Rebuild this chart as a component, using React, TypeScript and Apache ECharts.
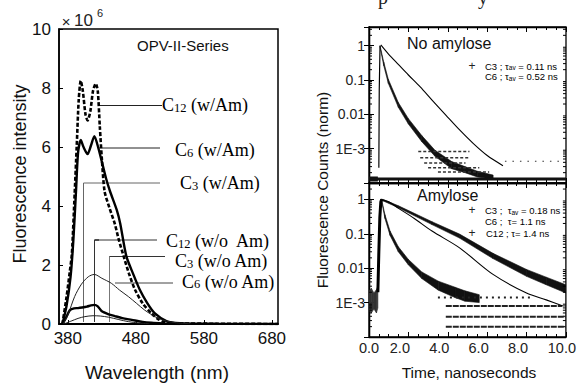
import React, { useEffect, useRef } from "react";
import * as echarts from "echarts";

// ---------------- Left panel: emission spectra ----------------
const WAVELENGTH_TICKS = [380, 480, 580, 680];
const INTENSITY_TICKS = [0, 2, 4, 6, 8, 10];

const C12_AM_WL = [372, 378, 383, 386, 390, 393, 396, 399, 402, 406, 409, 413, 417, 421, 424, 427, 430, 434, 441, 449, 455, 462, 470, 479, 490, 503, 512, 522, 540, 600, 689];
const C12_AM_I = [0, 0.9, 1.8, 2.4, 4.4, 6.0, 7.6, 8.25, 7.9, 7.1, 6.9, 7.2, 7.9, 8.15, 7.9, 6.7, 5.6, 4.5, 3.95, 3.4, 2.85, 2.3, 1.7, 1.15, 0.7, 0.36, 0.18, 0.06, 0.02, 0.01, 0];

const C6_AM_WL = [372, 378, 384, 388, 392, 395, 399, 403, 409, 414, 419, 425, 430, 436, 442, 452, 457, 466, 476, 486, 497, 508, 525, 545, 600, 689];
const C6_AM_I = [0, 0.6, 1.6, 2.8, 4.5, 5.8, 6.24, 6.0, 5.76, 6.05, 6.37, 5.95, 5.5, 4.95, 4.5, 3.86, 3.41, 2.3, 1.7, 1.15, 0.7, 0.36, 0.1, 0.03, 0.01, 0];

const C3_AM_WL = [372, 377, 383, 389, 395, 401, 408, 414, 419, 424, 430, 440, 449, 460, 474, 490, 503, 520, 545];
const C3_AM_I = [0, 0.2, 0.47, 0.53, 0.54, 0.56, 0.59, 0.63, 0.65, 0.6, 0.43, 0.33, 0.27, 0.2, 0.14, 0.07, 0.04, 0.02, 0];

const WO_AM_A_WL = [373, 380, 390, 400, 410, 419, 430, 444, 456, 469, 481, 493, 503, 513, 525, 540, 560];
const WO_AM_A_I = [0, 0.3, 0.93, 1.35, 1.6, 1.68, 1.55, 1.38, 1.15, 0.93, 0.7, 0.47, 0.32, 0.19, 0.1, 0.04, 0.01];

const WO_AM_B_WL = [374, 385, 395, 405, 417, 428, 440, 455, 469, 485, 500];
const WO_AM_B_I = [0, 0.1, 0.19, 0.25, 0.28, 0.27, 0.23, 0.15, 0.08, 0.03, 0.01];

// ---------------- Right panels: decays ----------------
const TIME_TICKS = [0, 2, 4, 6, 8, 10];
const DECADE_LABELS = ["1", "0.1", "0.01", "1E-3"];
const MINOR_LOG = [
  0.0002, 0.0003, 0.0004, 0.0005, 0.0006, 0.0007, 0.0008, 0.0009,
  0.002, 0.003, 0.004, 0.005, 0.006, 0.007, 0.008, 0.009,
  0.02, 0.03, 0.04, 0.05, 0.06, 0.07, 0.08, 0.09,
  0.2, 0.3, 0.4, 0.5, 0.6, 0.7, 0.8, 0.9,
  2, 3,
];

// No amylose
const TOP_C3_T = [0.56, 0.75, 0.98, 1.49, 2.0, 2.68, 3.35, 4.2, 4.87, 5.5, 6.3];
const TOP_C3_HI = [1.0, 0.33, 0.105, 0.022, 0.0075, 0.0024, 0.0009, 0.00042, 0.0003, 0.00022, 0.00017];
const TOP_C3_LO = [0.9, 0.26, 0.08, 0.016, 0.0052, 0.0016, 0.0006, 0.00026, 0.0002, 0.00015, 0.00013];
const TOP_RISE_T = [0.5, 0.52, 0.56];
const TOP_RISE_V = [0.00028, 0.05, 1.0];
const TOP_C6_T = [0.6, 1.0, 1.5, 2.0, 2.6, 3.2, 3.9, 4.6, 5.3, 6.0, 6.8];
const TOP_C6_V = [1.05, 0.56, 0.28, 0.14, 0.063, 0.026, 0.0095, 0.0035, 0.0014, 0.00063, 0.00032];
const TOP_FLOOR_V = 0.00013;
const TOP_ROW_V = [0.00083, 0.00054, 0.00038, 0.00028, 0.00021, 0.00043];
const TOP_ROW_T0 = [2.5, 2.6, 2.8, 3.0, 3.5, 6.9];
const TOP_ROW_T1 = [5.1, 5.1, 4.9, 5.6, 6.1, 9.8];

// Amylose
const BOT_C12_T = [0.6, 0.75, 1.5, 3.2, 4.6, 6.3, 8.0, 9.0, 10.0];
const BOT_C12_HI = [1.03, 0.98, 0.65, 0.225, 0.098, 0.027, 0.0092, 0.0055, 0.0033];
const BOT_C12_LO = [0.93, 0.89, 0.57, 0.185, 0.075, 0.019, 0.0058, 0.0033, 0.0019];
const BOT_C3_T = [0.64, 0.81, 1.07, 1.49, 2.0, 2.68, 3.52, 4.37, 4.87, 5.6];
const BOT_C3_HI = [1.0, 0.36, 0.12, 0.042, 0.018, 0.0078, 0.0042, 0.0028, 0.0022, 0.0017];
const BOT_C3_LO = [0.9, 0.28, 0.09, 0.03, 0.0125, 0.005, 0.0023, 0.0014, 0.0011, 0.001];
const BOT_C6_T = [0.62, 1.0, 1.5, 2.3, 3.2, 4.6, 6.3, 8.0, 9.0, 9.85];
const BOT_C6_V = [1.0, 0.85, 0.55, 0.28, 0.12, 0.039, 0.0066, 0.0019, 0.0012, 0.0008];
const BOT_PRE_T = [0.0, 0.12, 0.25, 0.38, 0.45];
const BOT_PRE_HI = [0.0022, 0.0026, 0.0019, 0.0024, 0.003];
const BOT_PRE_LO = [0.0006, 0.0005, 0.00065, 0.0005, 0.0007];
const BOT_RISE_T = [0.45, 0.5, 0.55, 0.6, 0.64];
const BOT_RISE_V = [0.002, 0.03, 0.3, 0.85, 1.0];
const BOT_ROW_V = [0.0014, 0.00079, 0.00039, 0.0002];
const BOT_ROW_T0 = [3.5, 3.9, 3.9, 3.9];
const BOT_ROW_T1 = [8.2, 9.8, 10, 10];

const SANS = "Liberation Sans, Arial, sans-serif";
const SERIF = "Liberation Serif, Times New Roman, serif";

const pairs = (xs: number[], ys: number[]) => xs.map((x, i) => [x, ys[i]]);

function lineSeries(xi: number, yi: number, xs: number[], ys: number[], width: number, color = "#000", type: any = "solid", smooth: number | boolean = false) {
  return {
    type: "line",
    xAxisIndex: xi,
    yAxisIndex: yi,
    data: pairs(xs, ys),
    showSymbol: false,
    smooth,
    silent: true,
    lineStyle: { color, width, type },
  };
}

function bandSeries(xi: number, yi: number, ts: number[], lo: number[], hi: number[], color = "#111") {
  const data = ts.map((t, i) => [t, lo[i], hi[i]]);
  return {
    type: "custom",
    xAxisIndex: xi,
    yAxisIndex: yi,
    silent: true,
    clip: true,
    data,
    encode: { x: 0, y: [1, 2] },
    renderItem: (params: any, api: any) => {
      const i = params.dataIndex;
      if (i >= data.length - 1) return null;
      const a = data[i];
      const b = data[i + 1];
      const pts = [api.coord([a[0], a[2]]), api.coord([b[0], b[2]]), api.coord([b[0], b[1]]), api.coord([a[0], a[1]])];
      return { type: "polygon", shape: { points: pts }, style: { fill: color, stroke: color, lineWidth: 0.6 } };
    },
  };
}

function minorLogTicks(xi: number, yi: number) {
  return {
    type: "custom",
    xAxisIndex: xi,
    yAxisIndex: yi,
    silent: true,
    clip: true,
    data: MINOR_LOG.map((v) => [0, v]),
    renderItem: (params: any, api: any) => {
      const v = api.value(1);
      const pl = api.coord([0, v]);
      const pr = api.coord([10, v]);
      return {
        type: "group",
        children: [
          { type: "line", shape: { x1: pl[0], y1: pl[1], x2: pl[0] + 3, y2: pl[1] }, style: { stroke: "#000", lineWidth: 1 } },
          { type: "line", shape: { x1: pr[0] - 3, y1: pr[1], x2: pr[0], y2: pr[1] }, style: { stroke: "#000", lineWidth: 1 } },
        ],
      };
    },
  };
}

const logLabel = (v: number) => {
  const e = Math.log10(v);
  const r = Math.round(e);
  if (Math.abs(e - r) > 0.02) return "";
  const idx = -r;
  return idx >= 0 && idx < DECADE_LABELS.length ? DECADE_LABELS[idx] : "";
};

function logYAxis(gridIndex: number, max: number, position: "left" | "right") {
  return {
    type: "log",
    gridIndex,
    position,
    logBase: 10,
    min: 0.0001,
    max,
    axisLine: { show: true, lineStyle: { color: "#000", width: 1.3 } },
    axisTick: { show: true, inside: true, length: 5, lineStyle: { color: "#000" } },
    splitLine: { show: false },
    axisLabel: position === "left"
      ? { show: true, formatter: logLabel, fontFamily: SANS, fontSize: 14, color: "#222", margin: 4 }
      : { show: false },
  };
}

function timeXAxis(gridIndex: number, position: "top" | "bottom", labels: boolean) {
  return {
    type: "value",
    gridIndex,
    position,
    min: 0,
    max: 10,
    interval: 2,
    axisLine: { show: true, lineStyle: { color: "#000", width: 1.3 } },
    axisTick: { show: true, inside: true, length: 5, lineStyle: { color: "#000" } },
    minorTick: { show: true, splitNumber: 4, length: 3, lineStyle: { color: "#000" } },
    splitLine: { show: false },
    axisLabel: labels
      ? {
          show: true,
          margin: 3,
          formatter: (v: number) => {
            const s = TIME_TICKS.includes(v) ? v.toFixed(1) : "";
            if (v === 0) return `{z|${s}}`;
            if (v === 10) return `{c|${s}}`;
            return `{b|${s}}`;
          },
          rich: {
            z: { fontFamily: SANS, fontSize: 14.5, color: "#222" },
            b: { fontFamily: SANS, fontSize: 14.5, color: "#222", padding: [0, 17, 0, 0] },
            c: { fontFamily: SANS, fontSize: 14.5, color: "#222", padding: [0, 8, 0, 0] },
          },
        }
      : { show: false },
  };
}

const annRich = {
  c: { fontFamily: SERIF, fontSize: 18, color: "#111", verticalAlign: "bottom", lineHeight: 14 },
  n: { fontFamily: SERIF, fontSize: 12.5, color: "#111", verticalAlign: "bottom", lineHeight: 14 },
};
const annLabel = (x: number, y: number, num: string, rest: string) => ({
  type: "text",
  x,
  y,
  style: { text: `{c|C}{n|${num}}{c| ${rest}}`, rich: annRich, align: "left", verticalAlign: "middle", font: `18px ${SERIF}` },
});

const legRich = {
  n: { fontFamily: SANS, fontSize: 9.5, color: "#333", verticalAlign: "bottom" },
  s: { fontFamily: SANS, fontSize: 6.5, color: "#333", verticalAlign: "bottom" },
};
const legText = (x: number, y: number, text: string) => ({
  type: "text", x, y, style: { text, rich: legRich, align: "left", verticalAlign: "middle", font: `9.5px ${SANS}` },
});
const plus = (x: number, y: number) => ({
  type: "text", x, y, style: { text: "+", font: `12px ${SANS}`, fill: "#222", align: "center", verticalAlign: "middle" },
});
const seg = (x1: number, y1: number, x2: number, y2: number, stroke = "#222", w = 1) => ({
  type: "line", shape: { x1, y1, x2, y2 }, style: { stroke, lineWidth: w },
});
const poly = (points: number[][], stroke = "#222", w = 1) => ({
  type: "polyline", shape: { points }, style: { stroke, lineWidth: w, fill: "none" },
});

function buildOption() {
  const series: any[] = [
    // left spectra
    lineSeries(0, 0, C12_AM_WL, C12_AM_I, 2.6, "#000", [4, 2], 0.25),
    lineSeries(0, 0, C6_AM_WL, C6_AM_I, 2.4, "#000", "solid", 0.25),
    lineSeries(0, 0, C3_AM_WL, C3_AM_I, 2.4, "#000", "solid", 0.25),
    lineSeries(0, 0, WO_AM_A_WL, WO_AM_A_I, 1, "#222", "solid", 0.3),
    lineSeries(0, 0, WO_AM_B_WL, WO_AM_B_I, 1, "#222", "solid", 0.3),
    // top right (No amylose)
    lineSeries(1, 1, [0, 10], [TOP_FLOOR_V, TOP_FLOOR_V], 3, "#111"),
    lineSeries(1, 1, [0, 0.45], [TOP_FLOOR_V, TOP_FLOOR_V], 5, "#111"),
    ...TOP_ROW_V.map((v, i) =>
      lineSeries(1, 1, [TOP_ROW_T0[i], TOP_ROW_T1[i]], [v, v], i === 5 ? 1.2 : 1.5, "#333", i === 5 ? [1.5, 6] : [3, 2])
    ),
    bandSeries(1, 1, TOP_C3_T, TOP_C3_LO, TOP_C3_HI),
    lineSeries(1, 1, TOP_RISE_T, TOP_RISE_V, 1.2, "#000"),
    lineSeries(1, 1, TOP_C6_T, TOP_C6_V, 1.1, "#000", "solid", 0.3),
    minorLogTicks(1, 1),
    // bottom right (Amylose)
    ...BOT_ROW_V.map((v, i) =>
      lineSeries(3, 3, [BOT_ROW_T0[i], BOT_ROW_T1[i]], [v, v], 2, "#222", i === 0 ? [2, 4] : [6, 1])
    ),
    bandSeries(3, 3, BOT_PRE_T, BOT_PRE_LO, BOT_PRE_HI, "#333"),
    lineSeries(3, 3, BOT_RISE_T, BOT_RISE_V, 3, "#000"),
    bandSeries(3, 3, BOT_C3_T, BOT_C3_LO, BOT_C3_HI),
    bandSeries(3, 3, BOT_C12_T, BOT_C12_LO, BOT_C12_HI),
    lineSeries(3, 3, BOT_C6_T, BOT_C6_V, 1.1, "#000", "solid", 0.3),
    minorLogTicks(3, 3),
  ];

  const graphic: any[] = [
    // cut-off caption above right panel (only its descenders are visible)
    { type: "text", x: 378, y: 7, style: { text: "p", font: `20px ${SERIF}`, fill: "#222", verticalAlign: "bottom" } },
    { type: "text", x: 478, y: 7, style: { text: "y", font: `20px ${SERIF}`, fill: "#222", verticalAlign: "bottom" } },
    // left panel texts
    { type: "text", x: 66, y: 21, style: { text: "×", font: `15px ${SANS}`, fill: "#222", align: "center", verticalAlign: "middle" } },
    { type: "text", x: 74, y: 20, style: { text: "10", font: `17px ${SANS}`, fill: "#222", align: "left", verticalAlign: "middle" } },
    { type: "text", x: 97, y: 13, style: { text: "6", font: `11px ${SANS}`, fill: "#222", align: "left", verticalAlign: "middle" } },
    { type: "text", x: 137, y: 45, style: { text: "OPV-II-Series", font: `15px ${SANS}`, fill: "#111", align: "left", verticalAlign: "middle" } },
    { type: "text", x: 157, y: 372, style: { text: "Wavelength (nm)", font: `19px ${SANS}`, fill: "#111", align: "center", verticalAlign: "middle" } },
    { type: "text", x: 20, y: 174, rotation: Math.PI / 2, style: { text: "Fluorescence intensity", font: `18px ${SANS}`, fill: "#111", align: "center", verticalAlign: "middle" } },
    // leaders
    seg(100, 105.5, 162, 105.5, "#222"),
    seg(99, 148, 160, 148, "#222"),
    poly([[83.5, 322], [83.5, 183], [160, 183]], "#666"),
    poly([[94.5, 322], [94.5, 240], [157, 240]], "#333"),
    seg(94.5, 240, 99, 240, "#333", 1.5),
    poly([[109.5, 322], [109.5, 256.5], [165, 256.5]], "#777"),
    seg(109.5, 256.5, 165, 256.5, "#333"),
    seg(115, 283, 173, 283, "#444"),
    annLabel(162, 107, "12", "(w/Am)"),
    annLabel(175, 152, "6", "(w/Am)"),
    annLabel(180, 185, "3", "(w/Am)"),
    annLabel(166, 243, "12", "(w/o  Am)"),
    annLabel(175, 263, "3", "(w/o Am)"),
    annLabel(182, 283.5, "6", "(w/o Am)"),
    // right panel texts
    { type: "text", x: 407, y: 43, style: { text: "No amylose", font: `16px ${SANS}`, fill: "#111", align: "left", verticalAlign: "middle" } },
    { type: "text", x: 417, y: 195.5, style: { text: "Amylose", font: `16px ${SANS}`, fill: "#111", align: "left", verticalAlign: "middle" } },
    plus(472, 65.5),
    legText(485, 66, "{n|C3 ; τ}{s|av}{n| = 0.11 ns}"),
    legText(485, 76.5, "{n|C6 ; τ}{s|av}{n| = 0.52 ns}"),
    plus(472, 210),
    legText(485, 210.5, "{n|C3 ;  τ}{s|av}{n| = 0.18 ns}"),
    legText(485, 221, "{n|C6 ;  τ= 1.1 ns}"),
    plus(472, 232.5),
    legText(486, 233, "{n|C12 ; τ= 1.4 ns}"),
    { type: "text", x: 469, y: 372, style: { text: "Time, nanoseconds", font: `15.5px ${SANS}`, fill: "#111", align: "center", verticalAlign: "middle" } },
    { type: "text", x: 322, y: 190, rotation: Math.PI / 2, style: { text: "Fluorescence Counts (norm)", font: `15.5px ${SANS}`, fill: "#111", align: "center", verticalAlign: "middle" } },
  ];

  return {
    animation: false,
    backgroundColor: "#fff",
    grid: [
      { left: 59, top: 29, width: 219, height: 295, show: true, borderColor: "#000", borderWidth: 1.5, backgroundColor: "transparent" },
      { left: 369, top: 27, width: 197, height: 156, show: true, borderColor: "#000", borderWidth: 1.3, backgroundColor: "transparent" },
      { left: 369, top: 183, width: 197, height: 154, show: true, borderColor: "#000", borderWidth: 1.3, backgroundColor: "transparent" },
    ],
    xAxis: [
      {
        type: "value",
        gridIndex: 0,
        min: 367,
        max: 689,
        axisLine: { show: true, lineStyle: { color: "#000", width: 2 } },
        axisTick: { show: true, inside: true, length: 4, customValues: WAVELENGTH_TICKS, lineStyle: { color: "#000" } },
        axisLabel: { show: true, customValues: WAVELENGTH_TICKS, fontFamily: SANS, fontSize: 17, color: "#111", margin: 6 },
        splitLine: { show: false },
      },
      timeXAxis(1, "bottom", false),
      timeXAxis(1, "top", false),
      timeXAxis(2, "bottom", true),
      timeXAxis(2, "top", false),
    ],
    yAxis: [
      {
        type: "value",
        gridIndex: 0,
        min: 0,
        max: 10,
        interval: 2,
        axisLine: { show: true, lineStyle: { color: "#000", width: 1.5 } },
        axisTick: { show: true, inside: true, length: 4, lineStyle: { color: "#000" } },
        axisLabel: { show: true, fontFamily: SANS, fontSize: 17, color: "#111", margin: 8,
          formatter: (v: number) => (INTENSITY_TICKS.includes(v) ? String(v) : "") },
        splitLine: { show: false },
      },
      logYAxis(1, 3.5, "left"),
      logYAxis(1, 3.5, "right"),
      logYAxis(2, 3, "left"),
      logYAxis(2, 3, "right"),
    ],
    series,
    graphic,
  };
}

export default function App() {
  const ref = useRef<HTMLDivElement>(null);
  useEffect(() => {
    const chart = echarts.init(ref.current!, null, { renderer: "svg" });
    chart.setOption(buildOption() as any);
    return () => chart.dispose();
  }, []);
  return (
    <div
      ref={ref}
      style={{ position: "fixed", left: 0, top: 0, width: 579, height: 383, background: "#fff" }}
    />
  );
}
